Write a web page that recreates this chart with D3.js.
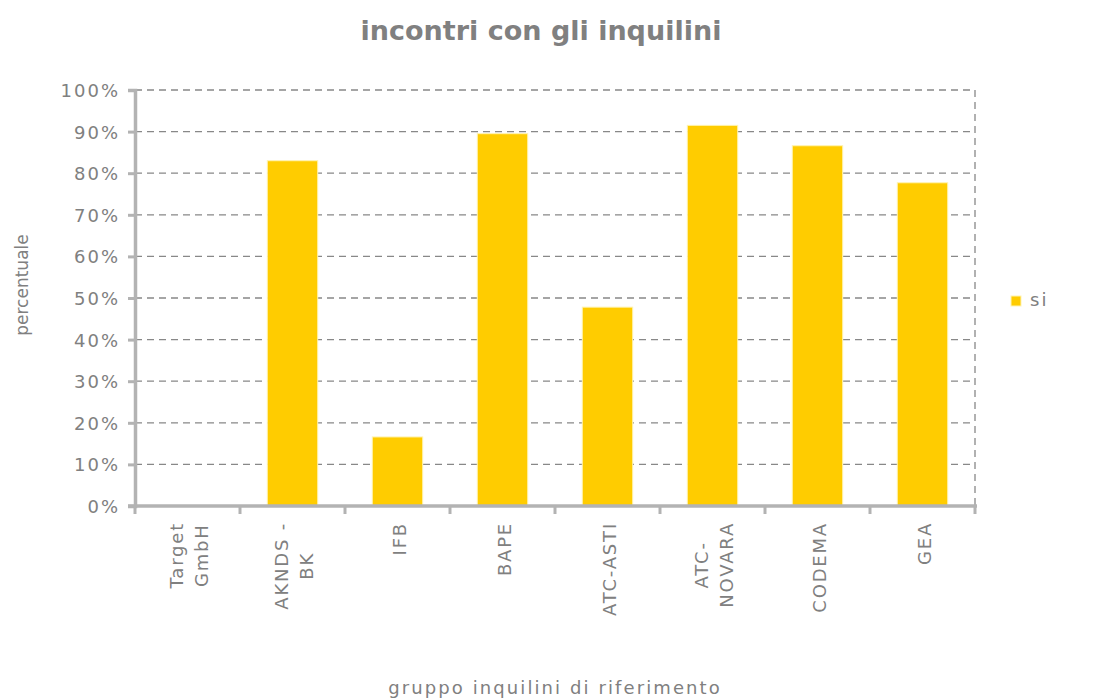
<html>
<head>
    <style>
        body { margin: 0; background: #fff; }
        text { font-family: Verdana, "DejaVu Sans", sans-serif; fill: #808080; }
        .bar { fill: #ffcc00; stroke: #fff3b0; stroke-width: 1; }
    </style>
    <script src="https://d3js.org/d3.v7.min.js"></script>
</head>
<body>
    <svg width="1095" height="700"></svg>

    <script>
        // dati
        var categorie = [["Target", "GmbH"], ["AKNDS -", "BK"], ["IFB"], ["BAPE"], ["ATC-ASTI"], ["ATC-", "NOVARA"], ["CODEMA"], ["GEA"]];
        var valori_si = [0, 0.83, 0.166, 0.895, 0.478, 0.915, 0.866, 0.777];
        var tick_valori = [0, 0.1, 0.2, 0.3, 0.4, 0.5, 0.6, 0.7, 0.8, 0.9, 1.0];
        var titolo = "incontri con gli inquilini";
        var serie_nome = "si";

        var svg = d3.select("svg");
        var m_left = 135, m_right = 975, m_top = 90, m_bottom = 506;

        var x_scale = d3.scaleBand()
            .domain(categorie.map(function(d, i){ return i; }))
            .range([m_left, m_right])
            .paddingInner(0.52).paddingOuter(0.26);
        var x_band = d3.scaleBand()
            .domain(categorie.map(function(d, i){ return i; }))
            .range([m_left, m_right]);
        var y_scale = d3.scaleLinear().domain([0, 1]).range([m_bottom, m_top]);

        // titolo
        svg.append("text")
           .attr("x", 541).attr("y", 40)
           .attr("text-anchor", "middle")
           .style("font-size", "27px").style("font-weight", "bold")
           .text(titolo);

        // griglia
        svg.append("g")
           .selectAll("line")
           .data(tick_valori.slice(1))
           .enter().append("line")
           .attr("x1", m_left).attr("x2", m_right)
           .attr("y1", function(d){ return y_scale(d); })
           .attr("y2", function(d){ return y_scale(d); })
           .attr("stroke", "#888").attr("stroke-width", 1.3)
           .attr("stroke-dasharray", "7,5");
        svg.append("line")
           .attr("x1", m_right).attr("x2", m_right)
           .attr("y1", m_top).attr("y2", m_bottom)
           .attr("stroke", "#888").attr("stroke-width", 1.3)
           .attr("stroke-dasharray", "7,5");

        // barre
        svg.selectAll(".bar")
           .data(valori_si)
           .enter().append("rect")
           .attr("class", "bar")
           .attr("x", function(d, i){ return x_scale(i); })
           .attr("y", function(d){ return y_scale(d); })
           .attr("width", x_scale.bandwidth())
           .attr("height", function(d){ return m_bottom - y_scale(d); })
           .style("display", function(d){ return d > 0 ? null : "none"; });

        // asse y
        var gy = svg.append("g")
           .attr("transform", "translate(" + m_left + ",0)")
           .call(d3.axisLeft(y_scale).tickValues(tick_valori).tickSize(7).tickPadding(8)
                 .tickFormat(function(d){ return Math.round(d * 100) + "%"; }));
        gy.select(".domain").attr("stroke", "#b3b3b3").attr("stroke-width", 3.5);
        gy.selectAll(".tick line").attr("stroke", "#b3b3b3").attr("stroke-width", 3);
        gy.selectAll(".tick text").style("font-size", "18px").style("letter-spacing", "2px")
          .attr("fill", "#808080").attr("dy", "0.36em");

        // asse x
        var gx = svg.append("g").attr("transform", "translate(0," + m_bottom + ")");
        gx.append("line").attr("x1", m_left - 7).attr("x2", m_right + 2)
          .attr("stroke", "#b3b3b3").attr("stroke-width", 3.5);
        gx.selectAll(".tk")
          .data(d3.range(categorie.length + 1))
          .enter().append("line")
          .attr("x1", function(d){ return m_left + d * x_band.bandwidth(); })
          .attr("x2", function(d){ return m_left + d * x_band.bandwidth(); })
          .attr("y1", 0).attr("y2", 8)
          .attr("stroke", "#b3b3b3").attr("stroke-width", 3);

        // etichette categorie ruotate
        categorie.forEach(function(righe, i){
            var cx = x_band(i) + x_band.bandwidth() / 2;
            var lh = 25;
            var g = svg.append("g");
            var testi = righe.map(function(r, j){
                return g.append("text")
                    .attr("text-anchor", "middle")
                    .style("font-size", "18px").style("letter-spacing", "1.8px")
                    .text(r);
            });
            var maxLen = d3.max(testi, function(t){ return t.node().getComputedTextLength(); });
            var cy = 522 + maxLen / 2;
            testi.forEach(function(t, j){
                var off = (j - (righe.length - 1) / 2) * lh + 8;
                t.attr("transform", "translate(" + (cx + off) + "," + cy + ") rotate(-90)");
            });
        });

        // titoli assi
        svg.append("text")
           .attr("x", 555).attr("y", 694)
           .attr("text-anchor", "middle")
           .style("font-size", "18px").style("letter-spacing", "2.1px")
           .text("gruppo inquilini di riferimento");
        svg.append("text")
           .attr("transform", "translate(28,285) rotate(-90)")
           .attr("text-anchor", "middle")
           .style("font-size", "17px")
           .text("percentuale");

        // legenda
        svg.append("rect")
           .attr("x", 1011).attr("y", 296).attr("width", 10).attr("height", 10)
           .attr("class", "bar");
        svg.append("text")
           .attr("x", 1030).attr("y", 306)
           .style("font-size", "18px").style("letter-spacing", "2px")
           .text(serie_nome);
    </script>
</body>
</html>
